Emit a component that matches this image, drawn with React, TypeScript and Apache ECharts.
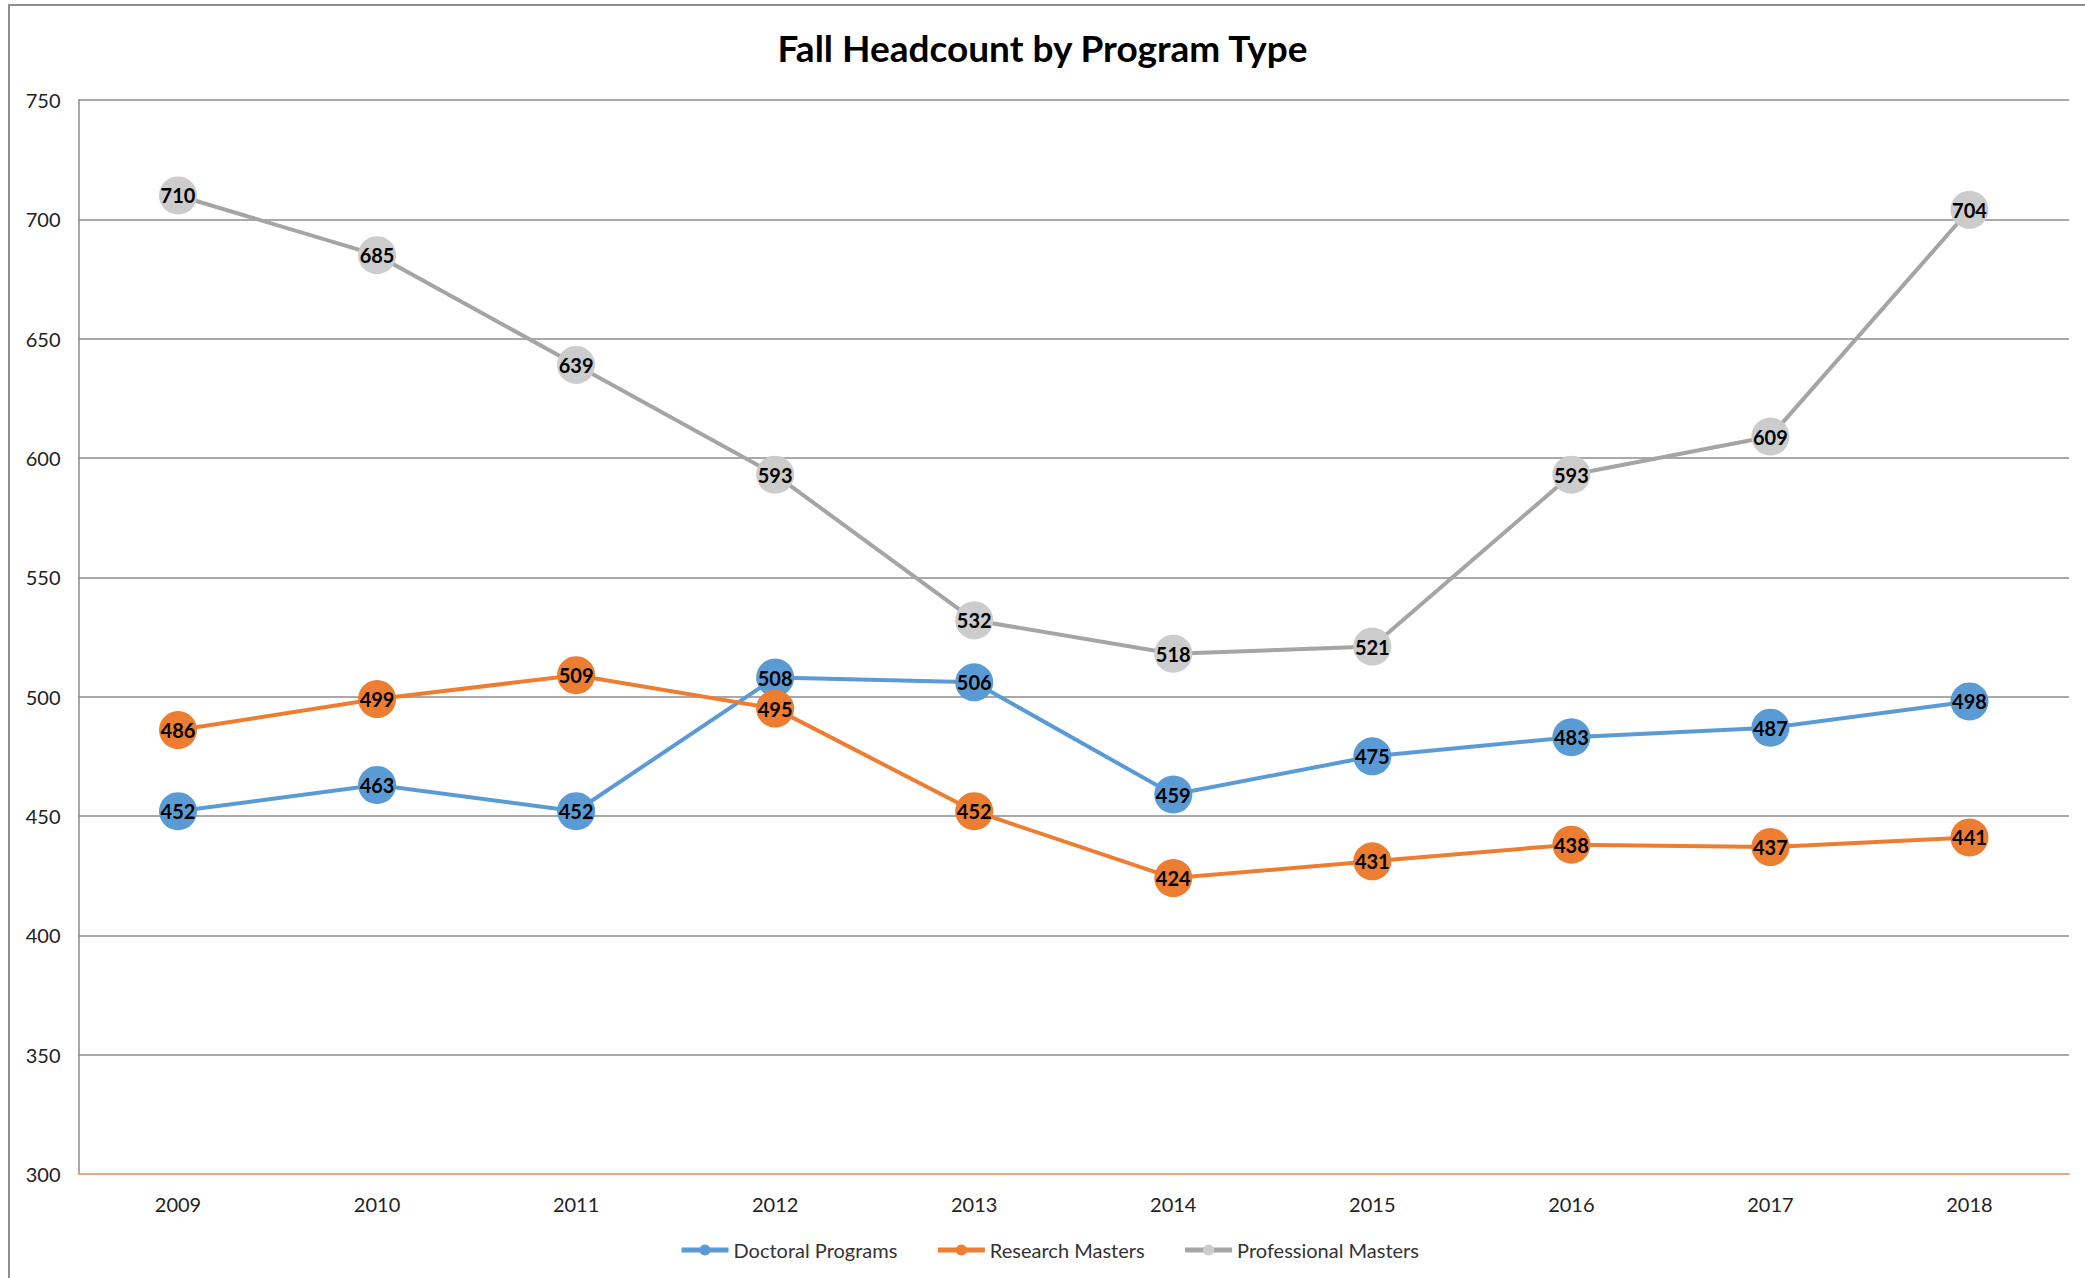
import React, { useEffect, useRef } from "react";
import * as echarts from "echarts";

const years = ["2009", "2010", "2011", "2012", "2013", "2014", "2015", "2016", "2017", "2018"];
const doctoral = [452, 463, 452, 508, 506, 459, 475, 483, 487, 498];
const research = [486, 499, 509, 495, 452, 424, 431, 438, 437, 441];
const professional = [710, 685, 639, 593, 532, 518, 521, 593, 609, 704];

const FONT = "Lato";

function mkSeries(name: string, data: number[], lineColor: string, markerColor: string) {
  return {
    name,
    type: "line",
    data,
    symbol: "circle",
    symbolSize: 38,
    lineStyle: { color: lineColor, width: 4 },
    itemStyle: { color: markerColor },
    label: {
      show: true,
      position: "inside",
      color: "#000",
      fontWeight: "bold",
      fontFamily: FONT,
      fontSize: 20,
    },
    emphasis: { disabled: true },
  };
}

export default function App() {
  const ref = useRef<HTMLDivElement>(null);
  useEffect(() => {
    const chart = echarts.init(ref.current!, null, { renderer: "svg" });
    chart.setOption({
      animation: false,
      backgroundColor: "#fff",
      title: {
        text: "Fall Headcount by Program Type",
        left: "center",
        top: 24,
        textStyle: { fontFamily: FONT, fontWeight: "bold", fontSize: 37, color: "#000" },
      },
      graphic: [
        {
          type: "rect",
          shape: { x: 9, y: 5, width: 2200, height: 1400 },
          style: { fill: "none", stroke: "#8f8f8f", lineWidth: 2 },
          silent: true,
        },
      ],
      legend: {
        left: 674,
        top: 1235,
        itemWidth: 47,
        itemHeight: 14,
        itemGap: 38,
        lineStyle: { width: 5 },
        textStyle: { fontFamily: FONT, fontSize: 20, color: "#333" },
        data: ["Doctoral Programs", "Research Masters", "Professional Masters"],
      },
      grid: { left: 78.5, right: 16, top: 100, bottom: 104, containLabel: false },
      xAxis: {
        type: "category",
        data: years,
        boundaryGap: true,
        axisLine: { show: true, lineStyle: { color: "#F4A46E", width: 2 } },
        axisTick: { show: false },
        axisLabel: { fontFamily: FONT, fontSize: 20, color: "#222", margin: 20 },
      },
      yAxis: {
        type: "value",
        min: 300,
        max: 750,
        interval: 50,
        axisLine: { show: true, lineStyle: { color: "#8c8c8c", width: 1.5 } },
        axisTick: { show: false },
        splitLine: { lineStyle: { color: "#8c8c8c", width: 1.5 } },
        axisLabel: { fontFamily: FONT, fontSize: 20, color: "#222", margin: 18 },
      },
      series: [
        mkSeries("Doctoral Programs", doctoral, "#5B9BD5", "#5B9BD5"),
        mkSeries("Research Masters", research, "#ED7D31", "#ED7D31"),
        mkSeries("Professional Masters", professional, "#A5A5A5", "#CCCCCC"),
      ],
    });
    return () => chart.dispose();
  }, []);
  return (
    <div
      ref={ref}
      style={{ position: "fixed", left: 0, top: 0, width: 2085, height: 1278 }}
    />
  );
}
